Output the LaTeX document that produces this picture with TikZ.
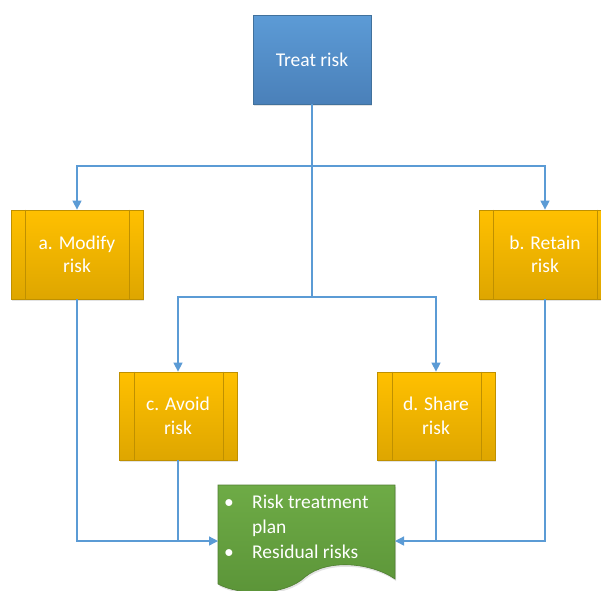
\documentclass[tikz,border=0pt]{standalone}
\usepackage{fontspec}
\setmainfont{Carlito}
\usetikzlibrary{arrows.meta,shadows}
\definecolor{lineblue}{HTML}{5B9BD5}
\definecolor{bluetop}{HTML}{5C9BD6}
\definecolor{bluebot}{HTML}{4A80B9}
\definecolor{blueedge}{HTML}{41719C}
\definecolor{ortop}{HTML}{FFC000}
\definecolor{orbot}{HTML}{DEA600}
\definecolor{oredge}{HTML}{BF9000}
\definecolor{grtop}{HTML}{6EAB46}
\definecolor{grbot}{HTML}{5B9438}
\definecolor{gredge}{HTML}{507E32}
\tikzset{
  x=1pt, y=-1pt,
  shad/.style={drop shadow={shadow xshift=1pt,shadow yshift=-2pt,opacity=0.18,fill=black!60}},
  txt/.style={text=white, font=\fontsize{19.5}{23.5}\selectfont, align=center},
  bluebox/.style={draw=blueedge, line width=0.8pt, top color=bluetop, bottom color=bluebot,
     minimum width=118pt, minimum height=89pt, shad, txt, inner sep=0pt},
  procbox/.style={draw=oredge, line width=0.8pt, top color=ortop, bottom color=orbot,
     minimum height=89pt, shad, txt, inner sep=0pt},
  conn/.style={draw=lineblue, line width=1.3pt},
  arr/.style={conn, -{Triangle[length=9pt,width=9pt]}},
  sideline/.style={draw=oredge, line width=0.8pt}
}
\begin{document}
\begin{tikzpicture}
\useasboundingbox[fill=white] (0,0) rectangle (601,590);
% nodes
\node[bluebox] (treat) at (312,59.5) {Treat risk};
\node[procbox, minimum width=132pt] (a) at (77,254.5) {a. Modify\\risk};
\node[procbox, minimum width=132pt] (b) at (545,254.5) {b. Retain\\risk};
\node[procbox, minimum width=118pt, minimum height=88pt] (c) at (178,416) {c. Avoid\\risk};
\node[procbox, minimum width=118pt, minimum height=88pt] (d) at (436,416) {d. Share\\risk};
% inner side lines of process boxes
\draw[sideline] ([xshift=15pt]a.north west) -- ([xshift=15pt]a.south west);
\draw[sideline] ([xshift=-14pt]a.north east) -- ([xshift=-14pt]a.south east);
\draw[sideline] ([xshift=15pt]b.north west) -- ([xshift=15pt]b.south west);
\draw[sideline] ([xshift=-14pt]b.north east) -- ([xshift=-14pt]b.south east);
\draw[sideline] ([xshift=16pt]c.north west) -- ([xshift=16pt]c.south west);
\draw[sideline] ([xshift=-14pt]c.north east) -- ([xshift=-14pt]c.south east);
\draw[sideline] ([xshift=16pt]d.north west) -- ([xshift=16pt]d.south west);
\draw[sideline] ([xshift=-14pt]d.north east) -- ([xshift=-14pt]d.south east);
% document shape
\path[shad, top color=grtop, bottom color=grbot, draw=gredge, line width=0.6pt]
  (218,485) -- (395,485) -- (395,579)
  .. controls (372,563) and (328,558) .. (305,577)
  .. controls (285,596) and (240,596) .. (218,584) -- cycle;
\node[anchor=north west, text=white, inner sep=0pt] (plan) at (224,491)
  {\fontsize{19.5}{25}\selectfont
   \begin{tabular}{@{}p{28pt}@{}l@{}}
   \textbullet & Risk treatment\\
   & plan\\
   \textbullet & Residual risks
   \end{tabular}};
% junction coordinates
\coordinate (j1) at (312,166);
\coordinate (j2) at (312,297);
\coordinate (pl) at (218,541);
\coordinate (pr) at (395,541);
% connectors
\draw[conn] (treat.south) -- (j2);
\draw[arr] (j1) -| (a.north);
\draw[arr] (j1) -| (b.north);
\draw[arr] (j2) -| (c.north);
\draw[arr] (j2) -| (d.north);
\draw[arr] (a.south) |- (pl);
\draw[conn] (c.south) -- (c.south |- pl);
\draw[arr] (b.south) |- (pr);
\draw[conn] (d.south) -- (d.south |- pr);
\end{tikzpicture}
\end{document}
